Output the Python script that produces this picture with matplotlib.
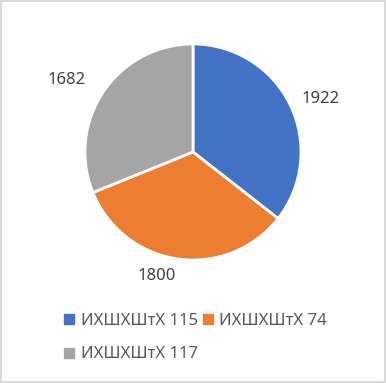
import matplotlib
matplotlib.use("Agg")
import numpy as np
import matplotlib.pyplot as plt
from matplotlib.lines import Line2D
from matplotlib.patches import Rectangle

categories = ["ИХШХШтХ 115", "ИХШХШтХ 74", "ИХШХШтХ 117"]
values = [1922, 1800, 1682]
colors = ["#4472C4", "#ED7D31", "#A5A5A5"]

W, H = 386, 383
fig = plt.figure(figsize=(W / 100, H / 100), dpi=100)
fig.patch.set_facecolor("white")
plt.rcParams["font.family"] = ["Noto Sans", "DejaVu Sans"]

# chart border
fig.add_artist(Rectangle((1 / W, 1 / H), 1 - 2 / W, 1 - 2 / H, transform=fig.transFigure,
                         fill=False, edgecolor="#D9D9D9", linewidth=1.5))

cx, cy, r = 193, 152, 108
ax = fig.add_axes([(cx - r) / W, (H - cy - r) / H, 2 * r / W, 2 * r / H])
wedges, _ = ax.pie(values, colors=colors, startangle=90, counterclock=False,
                   wedgeprops=dict(edgecolor="white", linewidth=2))

# value labels outside each wedge, at the wedge's mid angle
label_dist = [1.12, 1.16, 1.2]
for w, v, d in zip(wedges, values, label_dist):
    ang = np.deg2rad((w.theta1 + w.theta2) / 2)
    x, y = d * np.cos(ang), d * np.sin(ang)
    ax.text(x, y, str(v), ha="left" if x > 0 else "right", va="center",
            fontsize=12, color="#404040")

ax.set_xlim(-1, 1)
ax.set_ylim(-1, 1)
ax.set_aspect("equal")
ax.axis("off")

# legend filled row by row (matplotlib fills columns first)
handles = [Line2D([], [], marker="s", linestyle="none", markersize=6.5,
                  markerfacecolor=c, markeredgecolor=c) for c in colors]
order = [0, 2, 1]
fig.legend([handles[i] for i in order], [categories[i] for i in order],
           loc="upper left", bbox_to_anchor=(64 / W, 1 - 313 / H),
           ncol=2, frameon=False, fontsize=12, labelcolor="#595959",
           handlelength=0.6, handletextpad=0.4, columnspacing=0.3, labelspacing=1.05,
           borderpad=0, borderaxespad=0)

fig.savefig("out.png", dpi=100)
